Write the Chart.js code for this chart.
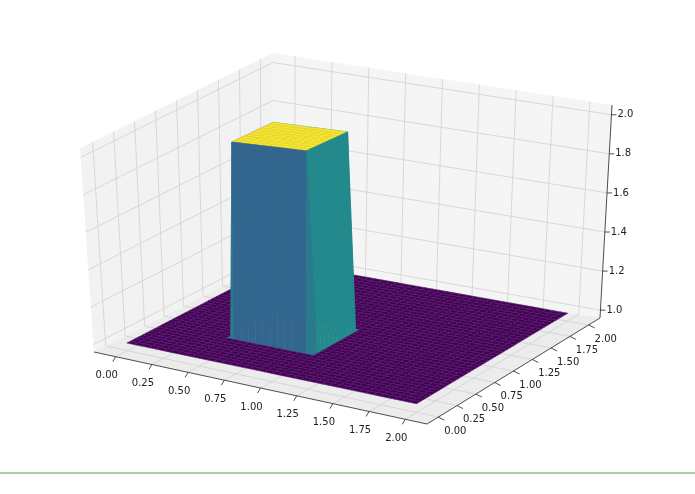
<!DOCTYPE html>
<html>
<head>
<meta charset="utf-8">
<script src="https://cdn.jsdelivr.net/npm/chart.js@4"></script>
<style>
  html, body { margin: 0; padding: 0; background: #fff; }
  canvas { display: block; }
</style>
</head>
<body>
<canvas id="grafico" width="695" height="494"></canvas>
<script>
// ===== DADOS =====
const xGrid = [0,0.05,0.1,0.15,0.2,0.25,0.3,0.35,0.4,0.45,0.5,0.55,0.6,0.65,0.7,0.75,0.8,0.85,0.9,0.95,
               1,1.05,1.1,1.15,1.2,1.25,1.3,1.35,1.4,1.45,1.5,1.55,1.6,1.65,1.7,1.75,1.8,1.85,1.9,1.95,2];
const yGrid = xGrid.slice();
// linha j = y, coluna i = x ; valor de u
const zRows = [
  '11111111111111111111111111111111111111111',
  '11111111111111111111111111111111111111111',
  '11111111111111111111111111111111111111111',
  '11111111111111111111111111111111111111111',
  '11111111111111111111111111111111111111111',
  '11111111111111111111111111111111111111111',
  '11111111111111111111111111111111111111111',
  '11111111111111111111111111111111111111111',
  '11111111111111111111111111111111111111111',
  '11111111111111111111111111111111111111111',
  '11111111112222222222211111111111111111111',
  '11111111112222222222211111111111111111111',
  '11111111112222222222211111111111111111111',
  '11111111112222222222211111111111111111111',
  '11111111112222222222211111111111111111111',
  '11111111112222222222211111111111111111111',
  '11111111112222222222211111111111111111111',
  '11111111112222222222211111111111111111111',
  '11111111112222222222211111111111111111111',
  '11111111112222222222211111111111111111111',
  '11111111112222222222211111111111111111111',
  '11111111111111111111111111111111111111111',
  '11111111111111111111111111111111111111111',
  '11111111111111111111111111111111111111111',
  '11111111111111111111111111111111111111111',
  '11111111111111111111111111111111111111111',
  '11111111111111111111111111111111111111111',
  '11111111111111111111111111111111111111111',
  '11111111111111111111111111111111111111111',
  '11111111111111111111111111111111111111111',
  '11111111111111111111111111111111111111111',
  '11111111111111111111111111111111111111111',
  '11111111111111111111111111111111111111111',
  '11111111111111111111111111111111111111111',
  '11111111111111111111111111111111111111111',
  '11111111111111111111111111111111111111111',
  '11111111111111111111111111111111111111111',
  '11111111111111111111111111111111111111111',
  '11111111111111111111111111111111111111111',
  '11111111111111111111111111111111111111111',
  '11111111111111111111111111111111111111111',
];
const xTicks = [0,0.25,0.5,0.75,1,1.25,1.5,1.75,2];
const yTicks = [0,0.25,0.5,0.75,1,1.25,1.5,1.75,2];
const zTicks = [1.0,1.2,1.4,1.6,1.8,2.0];

// ===== CAIXA 3D (cantos na tela) =====
const PAD = 0.15, ZMIN = 0.96, ZMAX = 2.05;
const C_BAIXO = { L:[94,352], F:[427,424], R:[600,318], B:[273,260] };
const C_ALTO  = { L:[80,148], F:[425,182], R:[612,105], B:[273,53] };

function bilin(c, u, v) {
  const a0 = c.L[0]*(1-u) + c.F[0]*u, a1 = c.L[1]*(1-u) + c.F[1]*u;
  const b0 = c.B[0]*(1-u) + c.R[0]*u, b1 = c.B[1]*(1-u) + c.R[1]*u;
  return [a0*(1-v) + b0*v, a1*(1-v) + b1*v];
}
function proj(x, y, z) {
  const u = (x + PAD) / (2 + 2*PAD), v = (y + PAD) / (2 + 2*PAD);
  const w = (z - ZMIN) / (ZMAX - ZMIN);
  const p0 = bilin(C_BAIXO, u, v), p1 = bilin(C_ALTO, u, v);
  return [p0[0]*(1-w) + p1[0]*w, p0[1]*(1-w) + p1[1]*w];
}

const VIRIDIS = ['#440154','#482878','#3e4989','#31688e','#26828e','#1f9e89','#35b779','#6ece58','#b5de2b','#fde725'];
function viridis(t) {
  t = Math.max(0, Math.min(1, t));
  return VIRIDIS[Math.round(t * (VIRIDIS.length - 1))];
}

// ===== PLUGIN DE DESENHO =====
const surface3d = {
  id: 'surface3d',
  afterDatasetsDraw(chart) {
    const { ctx, scales } = chart;
    const P = (x, y, z) => {
      const s = proj(x, y, z);
      return [scales.x.getPixelForValue(s[0]), scales.y.getPixelForValue(s[1])];
    };
    const poly = (pts, fill, stroke, lw) => {
      ctx.beginPath();
      pts.forEach((p, k) => k ? ctx.lineTo(p[0], p[1]) : ctx.moveTo(p[0], p[1]));
      ctx.closePath();
      if (fill) { ctx.fillStyle = fill; ctx.fill(); }
      if (stroke) { ctx.strokeStyle = stroke; ctx.lineWidth = lw || 1; ctx.stroke(); }
    };
    const line = (a, b, color, lw) => {
      ctx.beginPath(); ctx.moveTo(a[0], a[1]); ctx.lineTo(b[0], b[1]);
      ctx.strokeStyle = color; ctx.lineWidth = lw; ctx.stroke();
    };
    const lo = -PAD, hi = 2 + PAD;

    ctx.save();
    // paineis
    poly([P(lo,lo,ZMIN),P(lo,hi,ZMIN),P(lo,hi,ZMAX),P(lo,lo,ZMAX)], '#f2f2f2');
    poly([P(lo,hi,ZMIN),P(hi,hi,ZMIN),P(hi,hi,ZMAX),P(lo,hi,ZMAX)], '#f5f5f5');
    poly([P(lo,lo,ZMIN),P(hi,lo,ZMIN),P(hi,hi,ZMIN),P(lo,hi,ZMIN)], '#ececec');

    const gc = '#d0d0d0';
    xTicks.forEach(t => {
      line(P(t,lo,ZMIN), P(t,hi,ZMIN), gc, 0.8);
      line(P(t,hi,ZMIN), P(t,hi,ZMAX), gc, 0.8);
    });
    yTicks.forEach(t => {
      line(P(lo,t,ZMIN), P(hi,t,ZMIN), gc, 0.8);
      line(P(lo,t,ZMIN), P(lo,t,ZMAX), gc, 0.8);
    });
    zTicks.forEach(t => {
      line(P(lo,lo,t), P(lo,hi,t), gc, 0.8);
      line(P(lo,hi,t), P(hi,hi,t), gc, 0.8);
    });

    // eixos
    line(P(lo,lo,ZMIN), P(hi,lo,ZMIN), '#222', 0.8);
    line(P(hi,lo,ZMIN), P(hi,hi,ZMIN), '#222', 0.8);
    line(P(hi,hi,ZMIN), P(hi,hi,ZMAX), '#222', 0.8);

    ctx.font = '10px "DejaVu Sans"';
    ctx.fillStyle = '#222';
    ctx.textAlign = 'center'; ctx.textBaseline = 'middle';
    xTicks.forEach(t => {
      const a = P(t, lo, ZMIN);
      line(a, [a[0]-3, a[1]+5], '#222', 0.8);
      ctx.fillText(t.toFixed(2), a[0]-9, a[1]+19);
    });
    yTicks.forEach(t => {
      const a = P(hi, t, ZMIN);
      line(a, [a[0]+6, a[1]+3], '#222', 0.8);
      ctx.fillText(t.toFixed(2), a[0]+17, a[1]+14);
    });
    ctx.textAlign = 'left';
    zTicks.forEach(t => {
      const a = P(hi, hi, t);
      line(a, [a[0]+5, a[1]], '#222', 0.8);
      ctx.fillText(t.toFixed(1), a[0]+6, a[1]);
    });

    // superficie (pintor: do fundo para a frente)
    const cells = [];
    for (let j = 0; j < yGrid.length - 1; j++) {
      for (let i = 0; i < xGrid.length - 1; i++) {
        cells.push({ i, j, d: (yGrid[j] + yGrid[j+1]) - (xGrid[i] + xGrid[i+1]) });
      }
    }
    cells.sort((a, b) => b.d - a.d);
    const Z = (i, j) => Number(zRows[j][i]);
    cells.forEach(({ i, j }) => {
      const z00 = Z(i,j), z10 = Z(i+1,j), z11 = Z(i+1,j+1), z01 = Z(i,j+1);
      const avg = (z00 + z10 + z11 + z01) / 4;
      const gx = (z10 + z11) - (z00 + z01), gy = (z01 + z11) - (z00 + z10);
      let fill = viridis(avg - 1), stroke = fill;
      if (avg === 1) { fill = '#440154'; stroke = '#521a6a'; }
      else if (avg === 2) { fill = '#fde725'; stroke = '#e8d93a'; }
      else if (Math.abs(gy) > Math.abs(gx)) { fill = gy > 0 ? '#33668e' : '#23898d'; stroke = fill; }
      else if (Math.abs(gx) > Math.abs(gy)) { fill = gx < 0 ? '#23898d' : '#33668e'; stroke = fill; }
      else { fill = '#2a7a8e'; stroke = fill; }
      poly([P(xGrid[i],yGrid[j],z00), P(xGrid[i+1],yGrid[j],z10),
            P(xGrid[i+1],yGrid[j+1],z11), P(xGrid[i],yGrid[j+1],z01)], fill, stroke, 0.6);
    });

    // linha verde no rodape
    line([scales.x.getPixelForValue(0), scales.y.getPixelForValue(473)],
         [scales.x.getPixelForValue(695), scales.y.getPixelForValue(473)], '#8fbf8f', 1.5);
    ctx.restore();
  }
};

// ===== INIT =====
new Chart(document.getElementById('grafico'), {
  type: 'scatter',
  data: { datasets: [{ data: [] }] },
  options: {
    responsive: false,
    animation: false,
    layout: { padding: 0 },
    plugins: { legend: { display: false }, tooltip: { enabled: false } },
    scales: {
      x: { type: 'linear', min: 0, max: 695, display: false },
      y: { type: 'linear', min: 0, max: 494, reverse: true, display: false }
    }
  },
  plugins: [surface3d]
});
</script>
</body>
</html>
